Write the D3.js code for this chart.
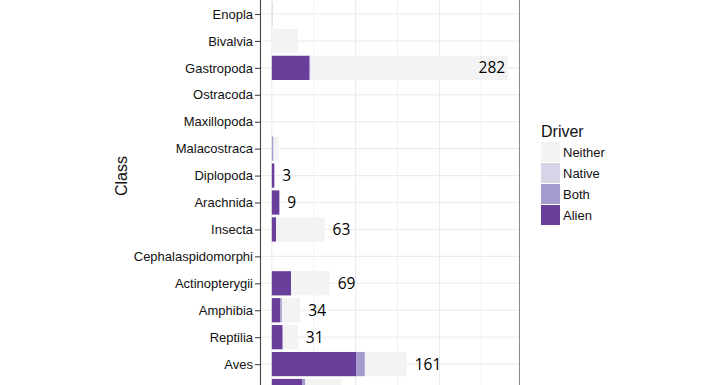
<!DOCTYPE html>
<html>
<head>
<meta charset="utf-8">
<script src="https://cdn.jsdelivr.net/npm/d3@7"></script>
<style>
  body { margin: 0; background: #fff; }
  svg { display: block; }
</style>
</head>
<body>
<div id="chart"></div>
<script>
document.addEventListener("DOMContentLoaded", function(event) {

    var classes = ["Enopla", "Bivalvia", "Gastropoda", "Ostracoda", "Maxillopoda",
        "Malacostraca", "Diplopoda", "Arachnida", "Insecta", "Cephalaspidomorphi",
        "Actinopterygii", "Amphibia", "Reptilia", "Aves", "Mammalia"];
    var alien   = [0, 0, 45, 0, 0, 0, 3, 9, 5, 0, 23, 10, 13, 101, 36];
    var both    = [0, 0, 1, 0, 0, 2, 0, 0, 0, 0, 0, 2, 0, 10, 4];
    var native  = [1, 0, 0, 0, 0, 0, 0, 0, 0, 0, 0, 0, 0, 0, 0];
    var neither = [0, 31, 236, 0, 0, 6, 0, 0, 58, 0, 46, 22, 18, 50, 43];
    // only the counts that show in the picture
    var labels  = [null, null, 282, null, null, null, 3, 9, 63, null, 69, 34, 31, 161, null];

    var drivers = ["Neither", "Native", "Both", "Alien"];
    var colors = { Alien: "#6a3f9c", Both: "#a59bce", Native: "#d8d5e8", Neither: "#f3f3f4" };

    var width = 720, height = 385;
    var panel = { left: 260, right: 520 };

    var data = classes.map(function(c, i) {
        return { cls: c, Alien: alien[i], Both: both[i], Native: native[i], Neither: neither[i] };
    });

    var maxTotal = d3.max(data, function(d) { return d.Alien + d.Both + d.Native + d.Neither; });
    var pad = maxTotal * 0.05;

    var x = d3.scaleLinear().domain([-pad, maxTotal + pad]).range([panel.left, panel.right]);
    var y = d3.scalePoint().domain(classes).range([14, 14 + 26.93 * (classes.length - 1)]);
    var bh = y.step() * 0.9;

    var svg = d3.select("#chart").append("svg")
        .attr("width", width)
        .attr("height", height);

    svg.append("rect").attr("width", width).attr("height", height).attr("fill", "#fff");

    // grid
    var grid = svg.append("g");
    grid.selectAll("line.v")
        .data(d3.range(0, 251, 50))
        .enter().append("line")
        .attr("x1", function(d) { return x(d); })
        .attr("x2", function(d) { return x(d); })
        .attr("y1", 0).attr("y2", height)
        .attr("stroke", "#ececec")
        .attr("stroke-width", function(d) { return d % 100 === 0 ? 1.1 : 0.7; });
    grid.selectAll("line.h")
        .data(classes)
        .enter().append("line")
        .attr("x1", panel.left).attr("x2", panel.right)
        .attr("y1", function(d) { return y(d); })
        .attr("y2", function(d) { return y(d); })
        .attr("stroke", "#ececec")
        .attr("stroke-width", 1.1);

    // stacked bars
    var stack = d3.stack().keys(["Alien", "Both", "Native", "Neither"]);
    var series = stack(data);

    svg.append("g").selectAll("g")
        .data(series)
        .enter().append("g")
        .attr("fill", function(s) { return colors[s.key]; })
        .selectAll("rect")
        .data(function(s) { return s; })
        .enter().append("rect")
        .attr("x", function(d) { return x(d[0]); })
        .attr("width", function(d) { return Math.max(0, x(d[1]) - x(d[0])); })
        .attr("y", function(d) { return y(d.data.cls) - bh / 2; })
        .attr("height", bh);

    // count labels
    svg.append("g").selectAll("text")
        .data(data.filter(function(d, i) { return labels[i] !== null; }))
        .enter().append("text")
        .each(function(d) {
            var i = classes.indexOf(d.cls);
            var total = d.Alien + d.Both + d.Native + d.Neither;
            var xe = x(total);
            var inside = xe + 40 > panel.right;
            d3.select(this)
                .attr("x", inside ? xe - 3 : xe + 8)
                .attr("text-anchor", inside ? "end" : "start")
                .text(labels[i]);
        })
        .attr("y", function(d) { return y(d.cls); })
        .attr("dy", "0.36em")
        .style("font-family", "'Open Sans', sans-serif")
        .style("font-size", "15.5px")
        .style("fill", "#000");

    // panel border right
    svg.append("line")
        .attr("x1", panel.right - 0.5).attr("x2", panel.right - 0.5)
        .attr("y1", 0).attr("y2", height)
        .attr("stroke", "#8a8a8a").attr("stroke-width", 1);

    // Add the Y Axis
    var yAxis = svg.append("g")
        .attr("transform", "translate(" + panel.left + ",0)")
        .call(d3.axisLeft(y).tickSize(5).tickPadding(2));
    yAxis.select(".domain").attr("stroke", "#444").attr("stroke-width", 1.1)
        .attr("d", "M0.5,0V" + height);
    yAxis.selectAll(".tick line").attr("stroke", "#444").attr("stroke-width", 1.1);
    yAxis.selectAll(".tick text")
        .style("font-family", "'Liberation Sans', Arial, sans-serif")
        .style("font-size", "13px")
        .style("fill", "#111");
    // the last row sits below the cropped edge, its name is not shown
    yAxis.selectAll(".tick")
        .filter(function(d) { return y(d) + 6 > height; })
        .select("text").remove();

    svg.append("text")
        .attr("transform", "translate(127,176) rotate(-90)")
        .attr("text-anchor", "middle")
        .style("font-family", "'Liberation Sans', Arial, sans-serif")
        .style("font-size", "16px")
        .style("fill", "#111")
        .text("Class");

    // legend
    var legend = svg.append("g").attr("transform", "translate(541,0)");
    legend.append("text")
        .attr("x", 0).attr("y", 137)
        .style("font-family", "'Liberation Sans', Arial, sans-serif")
        .style("font-size", "16px")
        .style("fill", "#111")
        .text("Driver");
    var items = legend.selectAll("g.item")
        .data(drivers)
        .enter().append("g")
        .attr("transform", function(d, i) { return "translate(0," + (142 + i * 21) + ")"; });
    items.append("rect")
        .attr("width", 19).attr("height", 20)
        .attr("fill", function(d) { return colors[d]; });
    items.append("text")
        .attr("x", 22).attr("y", 10).attr("dy", "0.35em")
        .style("font-family", "'Liberation Sans', Arial, sans-serif")
        .style("font-size", "13px")
        .style("fill", "#111")
        .text(function(d) { return d; });

})
</script>
</body>
</html>
